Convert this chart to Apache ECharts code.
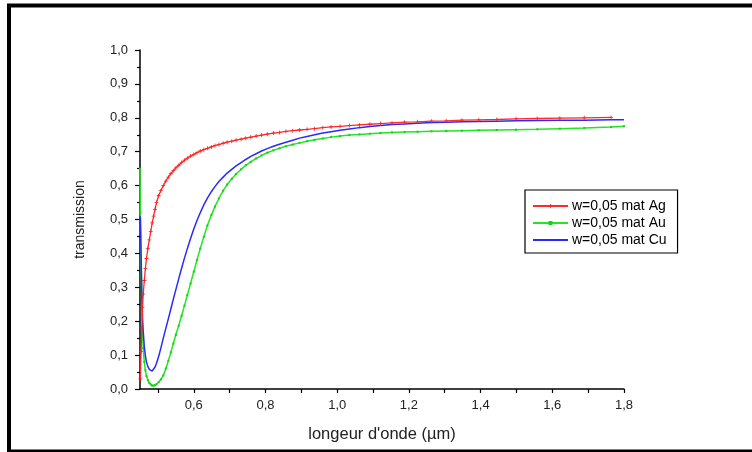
<!DOCTYPE html>
<html>
<head>
<meta charset="utf-8">
<script src="https://cdn.jsdelivr.net/npm/echarts@6/dist/echarts.min.js"></script>
<style>
  html, body { margin: 0; padding: 0; background: #fff; }
  #chart { width: 752px; height: 452px; }
</style>
</head>
<body>
<div id="chart"></div>
<script>
// Wavelength samples (µm), shared by the three transmission curves
const wavelength = [
  0.450, 0.451, 0.453, 0.455, 0.457, 0.459, 0.462, 0.465, 0.468, 0.472,
  0.476, 0.480, 0.484, 0.488, 0.492, 0.496, 0.502, 0.508, 0.515, 0.522,
  0.529, 0.536, 0.543, 0.550, 0.558, 0.566, 0.574, 0.582, 0.591, 0.600,
  0.609, 0.618, 0.628, 0.638, 0.649, 0.659, 0.670, 0.682, 0.693, 0.706,
  0.718, 0.732, 0.745, 0.759, 0.774, 0.789, 0.805, 0.822, 0.839, 0.857,
  0.876, 0.895, 0.916, 0.937, 0.960, 0.983, 1.008, 1.034, 1.062, 1.091,
  1.121, 1.153, 1.188, 1.224, 1.263, 1.304, 1.348, 1.395, 1.445, 1.499,
  1.558, 1.621, 1.689, 1.764, 1.800
];

// Transmission, silver
const transAg = [
  null, 0.030, 0.110, 0.180, 0.240, 0.280, 0.320, 0.355, 0.385, 0.415,
  0.440, 0.465, 0.490, 0.510, 0.530, 0.550, 0.570, 0.585, 0.600, 0.613,
  0.625, 0.635, 0.644, 0.652, 0.660, 0.668, 0.675, 0.681, 0.687, 0.692,
  0.697, 0.702, 0.706, 0.710, 0.714, 0.718, 0.721, 0.725, 0.728, 0.731,
  0.734, 0.737, 0.740, 0.743, 0.746, 0.749, 0.752, 0.755, 0.757, 0.760,
  0.762, 0.764, 0.766, 0.768, 0.771, 0.773, 0.775, 0.777, 0.779, 0.781,
  0.783, 0.785, 0.787, 0.788, 0.790, 0.791, 0.793, 0.794, 0.795, 0.797,
  0.798, 0.799, 0.800, 0.801, null
];

// Transmission, gold
const transAu = [
  0.650, 0.520, 0.380, 0.270, 0.160, 0.120, 0.080, 0.055, 0.038, 0.026,
  0.018, 0.013, 0.010, 0.010, 0.011, 0.014, 0.020, 0.028, 0.040, 0.060,
  0.083, 0.108, 0.134, 0.160, 0.187, 0.216, 0.246, 0.277, 0.311, 0.346,
  0.381, 0.414, 0.449, 0.482, 0.513, 0.538, 0.562, 0.585, 0.603, 0.620,
  0.634, 0.648, 0.660, 0.670, 0.680, 0.689, 0.697, 0.704, 0.710, 0.716,
  0.721, 0.726, 0.731, 0.735, 0.739, 0.743, 0.746, 0.749, 0.751, 0.753,
  0.755, 0.757, 0.758, 0.759, 0.760, 0.761, 0.762, 0.763, 0.764, 0.765,
  0.766, 0.768, 0.770, 0.773, 0.775
];

// Transmission, copper
const transCu = [
  0.510, 0.500, 0.400, 0.290, 0.210, 0.170, 0.125, 0.098, 0.080, 0.066,
  0.058, 0.054, 0.053, 0.057, 0.065, 0.076, 0.096, 0.120, 0.150, 0.179,
  0.207, 0.236, 0.265, 0.293, 0.325, 0.356, 0.386, 0.414, 0.444, 0.472,
  0.497, 0.520, 0.543, 0.563, 0.582, 0.597, 0.612, 0.625, 0.637, 0.648,
  0.658, 0.668, 0.677, 0.686, 0.694, 0.702, 0.709, 0.716, 0.722, 0.728,
  0.734, 0.740, 0.745, 0.750, 0.755, 0.759, 0.763, 0.767, 0.771, 0.774,
  0.777, 0.780, 0.782, 0.784, 0.786, 0.787, 0.788, 0.789, 0.790, 0.791,
  0.792, 0.793, 0.793, 0.794, 0.794
];

const seriesNames = ['w=0,05 mat Ag', 'w=0,05 mat Au', 'w=0,05 mat Cu'];

// Axis tick positions and labelled values
const xTickValues = [0.5, 0.6, 0.7, 0.8, 0.9, 1.0, 1.1, 1.2, 1.3, 1.4, 1.5, 1.6, 1.7, 1.8];
const xLabelValues = [0.6, 0.8, 1.0, 1.2, 1.4, 1.6, 1.8];

const pairs = (ys) => wavelength.map((x, i) => [x, ys[i]]);
const comma = (v) => v.toFixed(1).replace('.', ',');

const FONT = 'Liberation Sans, Arial, sans-serif';
const plusSymbol = 'path://M2,0H3V2H5V3H3V5H2V3H0V2H2Z';

const chart = echarts.init(document.getElementById('chart'), null, { renderer: 'canvas' });

chart.setOption({
  animation: false,
  backgroundColor: '#fff',
  graphic: [{
    type: 'rect',
    z: 100,
    silent: true,
    shape: { x: 9, y: 5.5, width: 800, height: 446 },
    style: { fill: 'none', stroke: '#000', lineWidth: 4 }
  }],
  grid: { left: 140, right: 128, top: 50, bottom: 63, containLabel: false },
  legend: {
    orient: 'vertical',
    left: 525,
    top: 190,
    data: [
      { name: seriesNames[0] },
      { name: seriesNames[1] },
      { name: seriesNames[2], itemStyle: { opacity: 0 } }
    ],
    itemWidth: 35,
    itemHeight: 5,
    itemGap: 3,
    padding: [9, 11, 6, 7],
    borderColor: '#000',
    borderWidth: 1.2,
    backgroundColor: '#fff',
    textStyle: { fontFamily: FONT, fontSize: 14, lineHeight: 12, color: '#000', padding: [0, 0, 0, -1] }
  },
  xAxis: {
    type: 'value',
    min: 0.45,
    max: 1.8,
    name: 'longeur d\'onde (\u00b5m)',
    nameLocation: 'middle',
    nameGap: 37,
    nameTextStyle: { fontFamily: FONT, fontSize: 16.5, color: '#222' },
    axisLine: { show: true, onZero: false, lineStyle: { color: '#000', width: 1.5 } },
    axisTick: { show: true, length: 4, customValues: xTickValues, lineStyle: { color: '#000', width: 1.2 } },
    axisLabel: {
      customValues: xLabelValues,
      formatter: comma,
      margin: 10,
      fontFamily: FONT, fontSize: 13, color: '#222'
    },
    splitLine: { show: false }
  },
  yAxis: {
    type: 'value',
    min: 0,
    max: 1,
    interval: 0.1,
    name: 'transmission',
    nameLocation: 'middle',
    nameGap: 53,
    nameRotate: 90,
    nameTextStyle: { fontFamily: FONT, fontSize: 14, color: '#222' },
    axisLine: { show: true, onZero: false, lineStyle: { color: '#000', width: 1.5 } },
    axisTick: { show: true, length: 5, lineStyle: { color: '#000', width: 1.2 } },
    minorTick: { show: true, splitNumber: 2, length: 3, lineStyle: { color: '#000', width: 1.2 } },
    axisLabel: { formatter: comma, margin: 12, fontFamily: FONT, fontSize: 13, color: '#222' },
    splitLine: { show: false }
  },
  series: [
    {
      name: seriesNames[0],
      type: 'line',
      data: pairs(transAg),
      z: 5,
      clip: false,
      symbol: plusSymbol,
      symbolSize: 4,
      showSymbol: true,
      itemStyle: { color: '#ff2020' },
      lineStyle: { color: '#ff2a2a', width: 1.3 }
    },
    {
      name: seriesNames[1],
      type: 'line',
      data: pairs(transAu),
      z: 3,
      clip: false,
      symbol: 'rect',
      symbolSize: 2,
      showSymbol: true,
      itemStyle: { color: '#14d214' },
      lineStyle: { color: '#22e622', width: 1.5 }
    },
    {
      name: seriesNames[2],
      type: 'line',
      data: pairs(transCu),
      z: 4,
      clip: false,
      symbol: 'none',
      itemStyle: { color: '#2a2aff' },
      lineStyle: { color: '#2a2aff', width: 1.5 }
    }
  ]
});
</script>
</body>
</html>
